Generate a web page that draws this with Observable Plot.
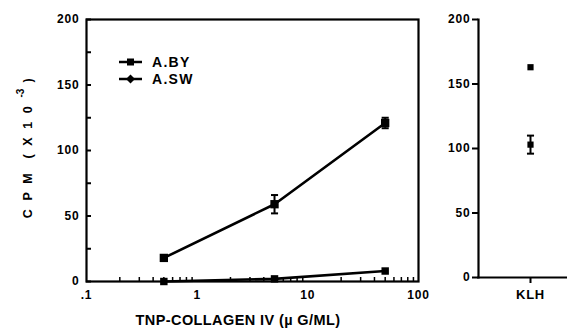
<!DOCTYPE html>
<html><head><meta charset="utf-8">
<script src="https://cdn.jsdelivr.net/npm/d3@7"></script>
<script src="https://cdn.jsdelivr.net/npm/@observablehq/plot@0.6"></script>
<style>
body{margin:0;background:#fff;}
#wrap{position:relative;width:567px;height:329px;overflow:hidden;font-family:"Liberation Sans",Arial,sans-serif;font-weight:bold;color:#000;background:#fff;}
#wrap svg.plot{position:absolute;top:0;}
#wrap svg.plot text{letter-spacing:0.8px;}
#ylab{position:absolute;left:26px;top:147px;transform:translate(-50%,-50%) rotate(-90deg);white-space:nowrap;font-size:12.5px;letter-spacing:2.6px;}
#ylab sup{font-size:10px;letter-spacing:0;position:relative;top:-2px;}
#xlab{position:absolute;left:238px;top:320px;transform:translate(-50%,-50%);white-space:nowrap;font-size:14.5px;letter-spacing:0.4px;}
.leg{position:absolute;left:118px;height:14px;display:flex;align-items:center;font-size:14px;letter-spacing:1.3px;}
.leg span{margin-left:10px;}
</style></head><body><div id="wrap"><div id="ylab">C P M &nbsp;( X 1 0 <sup>-3</sup> )</div><div id="xlab">TNP-COLLAGEN IV (µ G/ML)</div></div>
<script>
// Data
const doses = [0.5, 5, 50];                 // TNP-collagen IV, µg/ml
const seriesNames = ["A.BY", "A.SW"];
const upperValues = [18, 59, 121];          // CPM x10^-3
const upperErrors = [0, 7, 4];
const lowerValues = [0, 2, 8];
const lowerErrors = [0, 0, 0];
const klhCategories = ["KLH"];
const klhUpper = [163];
const klhUpperErr = [0];
const klhLower = [103];
const klhLowerErr = [7];
const yTicksMajor = [0, 50, 100, 150, 200];
const yTicksMinor = [0, 25, 50, 75, 100, 125, 150, 175, 200];
const xTicksMajor = [0.1, 1, 10, 100];
const xTicksMinor = [0.2,0.3,0.4,0.5,0.6,0.7,0.8,0.9,2,3,4,5,6,7,8,9,20,30,40,50,60,70,80,90];

const upper = doses.map((d,i)=>({x:d, y:upperValues[i], e:upperErrors[i], s:seriesNames[0]}));
const lower = doses.map((d,i)=>({x:d, y:lowerValues[i], e:lowerErrors[i], s:seriesNames[1]}));
const klh = [
  {x:klhCategories[0], y:klhUpper[0], e:klhUpperErr[0]},
  {x:klhCategories[0], y:klhLower[0], e:klhLowerErr[0]}
];

const cap = {draw(ctx, size){const w = Math.sqrt(size); ctx.moveTo(-w/2,0); ctx.lineTo(w/2,0);}};
const style = {fontFamily:'"Liberation Sans", Arial, sans-serif', fontSize:"12px", fontWeight:"bold", background:"transparent", color:"black", overflow:"visible"};

const errMarks = (data) => {
  const withErr = data.filter(d => d.e > 0);
  return [
    Plot.ruleX(withErr, {x:"x", y1:d=>d.y-d.e, y2:d=>d.y+d.e, stroke:"black", strokeWidth:2}),
    Plot.dot(withErr, {x:"x", y:d=>d.y+d.e, symbol:cap, r:4, stroke:"black", strokeWidth:2}),
    Plot.dot(withErr, {x:"x", y:d=>d.y-d.e, symbol:cap, r:4, stroke:"black", strokeWidth:2})
  ];
};

const left = Plot.plot({
  width:440, height:329,
  marginLeft:86, marginRight:22, marginTop:19, marginBottom:48,
  style,
  x:{type:"log", domain:[0.1,100], label:null},
  y:{domain:[0,200], label:null},
  marks:[
    Plot.axisY({ticks:yTicksMinor, tickSize:-5, tickFormat:()=>"", label:null, strokeWidth:2}),
    Plot.axisY({ticks:yTicksMajor, tickSize:0, tickPadding:7, label:null}),
    Plot.axisX({ticks:xTicksMinor, tickSize:-4, tickFormat:()=>"", label:null, strokeWidth:1.5}),
    Plot.axisX({ticks:xTicksMajor, tickSize:0, tickPadding:9, label:null, tickFormat:d=>d===0.1?".1":String(d)}),
    Plot.frame({stroke:"black", strokeWidth:2.2}),
    Plot.line(upper, {x:"x", y:"y", stroke:"black", strokeWidth:2.6}),
    Plot.line(lower, {x:"x", y:"y", stroke:"black", strokeWidth:2.6}),
    ...errMarks(upper),
    Plot.dot(upper, {x:"x", y:"y", symbol:"square", r:4.7, fill:"black"}),
    Plot.dot(lower, {x:"x", y:"y", symbol:"square", r:4.2, fill:"black"})
  ]
});
left.classList.add("plot");
left.style.left = "0px";

const right = Plot.plot({
  width:137, height:329,
  marginLeft:48, marginRight:0, marginTop:19, marginBottom:52,
  style,
  x:{type:"point", domain:klhCategories, align:0.584, label:null},
  y:{domain:[0,200], label:null},
  marks:[
    Plot.axisY({ticks:yTicksMajor, tickSize:6, tickPadding:2, label:null, strokeWidth:2}),
    Plot.axisX({tickSize:6, tickPadding:6, label:null, strokeWidth:2, fontSize:13}),
    Plot.frame({anchor:"left", stroke:"black", strokeWidth:2.2}),
    Plot.frame({anchor:"bottom", stroke:"black", strokeWidth:2.2}),
    ...errMarks(klh),
    Plot.dot(klh, {x:"x", y:"y", symbol:"square", r:3.5, fill:"black"})
  ]
});
right.classList.add("plot");
right.style.left = "430px";

const wrap = document.getElementById("wrap");
wrap.appendChild(left);
wrap.appendChild(right);

// Legend
const legendTops = [55, 72];
seriesNames.forEach((name, i) => {
  const row = document.createElement("div");
  row.className = "leg";
  row.style.top = legendTops[i] + "px";
  const sym = i === 0
    ? '<rect x="9" y="3.5" width="7" height="7" fill="black"/>'
    : '<path d="M12.5,2.5 L17,7 L12.5,11.5 L8,7 Z" fill="black"/>';
  row.innerHTML = `<svg width="24" height="14"><line x1="1" x2="24" y1="7" y2="7" stroke="black" stroke-width="2.5"/>${sym}</svg><span>${name}</span>`;
  wrap.appendChild(row);
});
</script></body></html>
